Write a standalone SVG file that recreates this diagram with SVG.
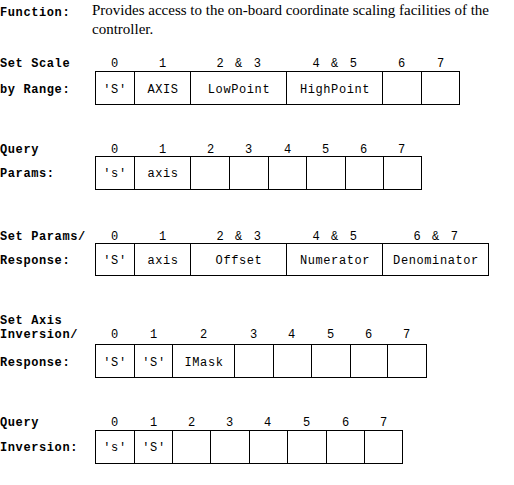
<svg xmlns="http://www.w3.org/2000/svg" width="514" height="485" viewBox="0 0 514 485">
<style>
.lbl{font-family:"Liberation Mono","Courier New",monospace;font-weight:bold;font-size:12px;letter-spacing:0.6px;fill:#000}
.hd{font-family:"Liberation Mono","Courier New",monospace;font-size:12px;letter-spacing:0.6px;fill:#000;text-anchor:middle}
.cell{font-family:"Liberation Mono","Courier New",monospace;font-size:12px;letter-spacing:0.6px;fill:#000;text-anchor:middle}
.desc{font-family:"Liberation Serif","Times New Roman",serif;font-size:15px;fill:#000}
.grid{stroke:#000;stroke-width:1;fill:none}
</style>
<rect width="514" height="485" fill="#fff"/>
<g id="function">
<text class="lbl" x="0" y="16">Function:</text>
<text class="desc" x="92" y="15">Provides access to the on-board coordinate scaling facilities of the</text>
<text class="desc" x="92" y="34">controller.</text>
</g>
<g id="set-scale">
<text class="lbl" x="0" y="67">Set Scale</text>
<text class="lbl" x="0" y="93">by Range:</text>
<g class="hd">
<text x="115" y="67">0</text><text x="163" y="67">1</text>
<text x="239" y="67" word-spacing="3">2 &amp; 3</text><text x="335" y="67" word-spacing="3">4 &amp; 5</text>
<text x="402" y="67">6</text><text x="441" y="67">7</text>
</g>
<path class="grid" d="M95 71.5H460M95 104.5H460M95.5 71V105M134.5 71V105M190.5 71V105M286.5 71V105M382.5 71V105M421.5 71V105M459.5 71V105"/>
<g class="cell">
<text x="115" y="93">'S'</text><text x="163" y="93">AXIS</text>
<text x="239" y="93">LowPoint</text><text x="335" y="93">HighPoint</text>
</g>
</g>
<g id="query-params">
<text class="lbl" x="0" y="153">Query</text>
<text class="lbl" x="0" y="177">Params:</text>
<g class="hd">
<text x="115" y="153">0</text><text x="163" y="153">1</text><text x="211" y="153">2</text><text x="249" y="153">3</text>
<text x="288" y="153">4</text><text x="326" y="153">5</text><text x="364" y="153">6</text><text x="402" y="153">7</text>
</g>
<path class="grid" d="M95 156.5H422M95 189.5H422M95.5 156V190M134.5 156V190M190.5 156V190M229.5 156V190M268.5 156V190M306.5 156V190M345.5 156V190M383.5 156V190M421.5 156V190"/>
<g class="cell">
<text x="115" y="177">'s'</text><text x="163" y="177">axis</text>
</g>
</g>
<g id="set-params">
<text class="lbl" x="0" y="240">Set Params/</text>
<text class="lbl" x="0" y="264">Response:</text>
<g class="hd">
<text x="115" y="240">0</text><text x="163" y="240">1</text>
<text x="239" y="240" word-spacing="3">2 &amp; 3</text><text x="335" y="240" word-spacing="3">4 &amp; 5</text>
<text x="436" y="240" word-spacing="3">6 &amp; 7</text>
</g>
<path class="grid" d="M95 243.5H489M95 275.5H489M95.5 243V276M134.5 243V276M190.5 243V276M286.5 243V276M382.5 243V276M488.5 243V276"/>
<g class="cell">
<text x="115" y="264">'S'</text><text x="163" y="264">axis</text>
<text x="239" y="264">Offset</text><text x="335" y="264">Numerator</text><text x="436" y="264">Denominator</text>
</g>
</g>
<g id="set-axis-inversion">
<text class="lbl" x="0" y="324">Set Axis</text>
<text class="lbl" x="0" y="338">Inversion/</text>
<text class="lbl" x="0" y="366">Response:</text>
<g class="hd">
<text x="115" y="338">0</text><text x="154" y="338">1</text><text x="204" y="338">2</text><text x="254" y="338">3</text>
<text x="292" y="338">4</text><text x="331" y="338">5</text><text x="369" y="338">6</text><text x="407" y="338">7</text>
</g>
<path class="grid" d="M95 344.5H427M95 377.5H427M95.5 344V378M134.5 344V378M172.5 344V378M234.5 344V378M273.5 344V378M311.5 344V378M350.5 344V378M387.5 344V378M426.5 344V378"/>
<g class="cell">
<text x="115" y="366">'S'</text><text x="154" y="366">'S'</text><text x="204" y="366">IMask</text>
</g>
</g>
<g id="query-inversion">
<text class="lbl" x="0" y="426">Query</text>
<text class="lbl" x="0" y="451">Inversion:</text>
<g class="hd">
<text x="115" y="426">0</text><text x="154" y="426">1</text><text x="192" y="426">2</text><text x="230" y="426">3</text>
<text x="268" y="426">4</text><text x="307" y="426">5</text><text x="346" y="426">6</text><text x="384" y="426">7</text>
</g>
<path class="grid" d="M95 430.5H403M95 463.5H403M95.5 430V464M134.5 430V464M172.5 430V464M210.5 430V464M249.5 430V464M287.5 430V464M326.5 430V464M364.5 430V464M402.5 430V464"/>
<g class="cell">
<text x="115" y="451">'s'</text><text x="154" y="451">'S'</text>
</g>
</g>
</svg>
